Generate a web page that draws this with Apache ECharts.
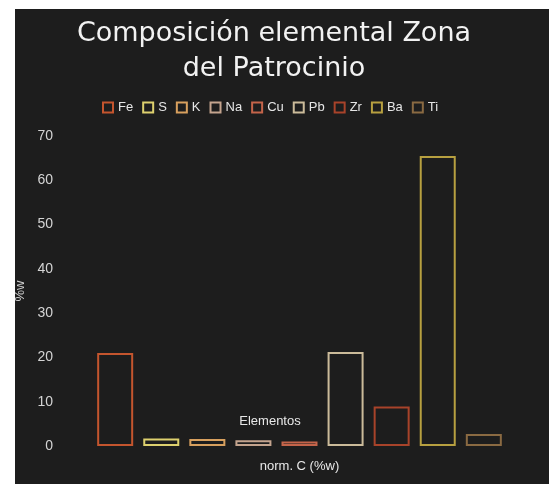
<!DOCTYPE html>
<html>
<head>
<meta charset="utf-8">
<script src="https://cdn.jsdelivr.net/npm/echarts@6/dist/echarts.min.js"></script>
<style>
  html, body { margin: 0; padding: 0; background: #fff; }
  #frame {
    position: relative; width: 549px; height: 484px; box-sizing: border-box;
    border-left: 15px solid #fff; border-top: 9px solid #fff; background: #1d1d1d;
  }
  #chart { position: absolute; left: -15px; top: -9px; width: 549px; height: 484px; }
</style>
</head>
<body>
<div id="frame"><div id="chart"></div></div>
<script>
// Elemental composition, normalised concentration (%w)
const category = ['norm. C (%w)'];
const elements = ['Fe', 'S', 'K', 'Na', 'Cu', 'Pb', 'Zr', 'Ba', 'Ti'];
const values = [21.0, 1.7, 1.6, 1.3, 1.0, 21.2, 8.9, 65.5, 2.7];
const colors = ['#c4552e', '#ddd06e', '#d8a05e', '#c4a48e', '#c4644a', '#cbbb9a', '#a8432a', '#b7a040', '#8a6a42'];
const yTicks = { min: 0, max: 70, interval: 10 };

const chart = echarts.init(document.getElementById('chart'), null, { renderer: 'canvas' });
const font = 'Liberation Sans, Arial, sans-serif';

chart.setOption({
  backgroundColor: 'transparent',
  animation: false,
  title: [{
    text: 'Composición elemental Zona\ndel Patrocinio',
    left: 269, top: 11, textAlign: 'center',
    textStyle: { color: '#f2f2f2', fontSize: 27, fontWeight: 'normal', fontFamily: 'DejaVu Sans, sans-serif', lineHeight: 35 }
  }, {
    text: 'Elementos',
    left: 265, top: 410, textAlign: 'center',
    textStyle: { color: '#e8e8e8', fontSize: 13, fontWeight: 'normal', fontFamily: font }
  }],
  legend: {
    data: elements,
    left: 97, top: 96,
    itemWidth: 10, itemHeight: 10, itemGap: 9,
    icon: 'rect',
    textStyle: { color: '#e6e6e6', fontSize: 13, fontFamily: font }
  },
  grid: { left: 86, right: 36, top: 136, bottom: 38 },
  xAxis: {
    type: 'category',
    data: category,
    axisLine: { show: false },
    axisTick: { show: false },
    axisLabel: { color: '#e8e8e8', fontSize: 13, fontFamily: font, margin: 14 }
  },
  yAxis: {
    type: 'value',
    min: yTicks.min, max: yTicks.max, interval: yTicks.interval,
    name: '%w', nameLocation: 'middle', nameGap: 56,
    nameTextStyle: { color: '#d0d0d0', fontSize: 13, fontFamily: font },
    splitLine: { show: false },
    axisLine: { show: false },
    axisTick: { show: false },
    axisLabel: { color: '#d4d4d4', fontSize: 14, fontFamily: font, margin: 33 }
  },
  series: elements.map((name, i) => ({
    name: name,
    type: 'bar',
    data: [values[i]],
    barWidth: 36,
    barGap: '28%',
    itemStyle: { color: 'transparent', borderColor: colors[i], borderWidth: 2 }
  }))
});
</script>
</body>
</html>
